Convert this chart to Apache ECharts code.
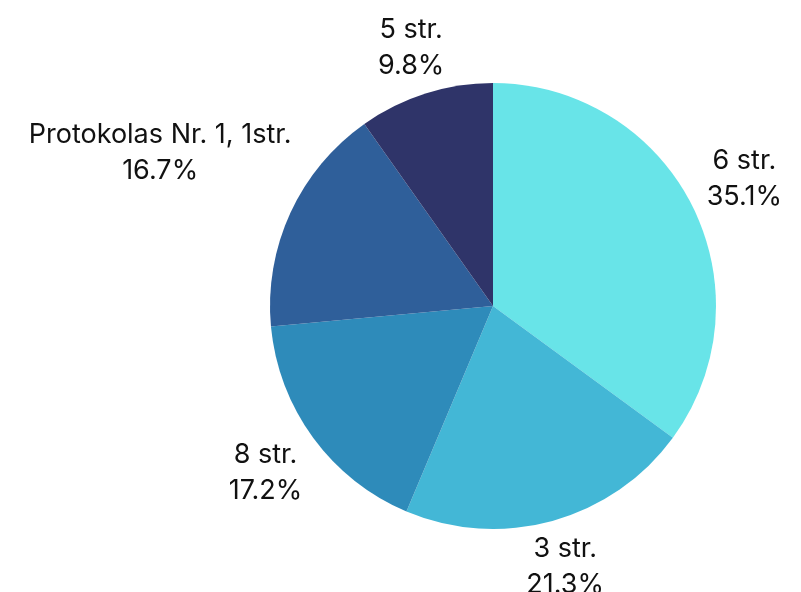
<!DOCTYPE html>
<html>
<head>
<meta charset="utf-8">
<script src="https://cdn.jsdelivr.net/npm/echarts@6/dist/echarts.min.js"></script>
<style>
html,body{margin:0;padding:0;background:#fff;}
#chart{width:801px;height:592px;}
</style>
</head>
<body>
<div id="chart"></div>
<script>
const categories = ['6 str.', '3 str.', '8 str.', 'Protokolas Nr. 1, 1str.', '5 str.'];
const values = [35.1, 21.3, 17.2, 16.7, 9.8];
const colors = ['#68E4E8', '#43B7D6', '#2E8BBA', '#2F5F9A', '#2F3469'];

const CX = 493, CY = 306, R = 223;
const total = values.reduce((a, b) => a + b, 0);

const chart = echarts.init(document.getElementById('chart'), null, {renderer: 'canvas'});
chart.setOption({
  animation: false,
  backgroundColor: '#ffffff',
  series: [{
    type: 'pie',
    center: [CX, CY],
    radius: [0, R],
    startAngle: 90,
    clockwise: true,
    avoidLabelOverlap: false,
    itemStyle: {borderWidth: 0},
    label: {
      show: true,
      position: 'outside',
      overflow: 'none',
      formatter: p => p.name + '\n' + values[p.dataIndex].toFixed(1) + '%',
      fontFamily: 'Inter',
      fontSize: 27,
      lineHeight: 36,
      color: '#111111'
    },
    labelLine: {show: false},
    labelLayout: function (p) {
      const i = p.dataIndex;
      let before = 0;
      for (let k = 0; k < i; k++) before += values[k];
      const mid = (before + values[i] / 2) / total * 2 * Math.PI;
      const ux = Math.sin(mid), uy = -Math.cos(mid);
      const w = p.labelRect.width + 20, h = p.labelRect.height;
      const ext = Math.abs(ux) * w / 2 + Math.abs(uy) * h / 2;
      const D = R + ext;
      return {x: CX + ux * D, y: CY + uy * D, align: 'center', verticalAlign: 'middle'};
    },
    data: categories.map((c, i) => ({name: c, value: values[i], itemStyle: {color: colors[i]}}))
  }]
});
</script>
</body>
</html>
